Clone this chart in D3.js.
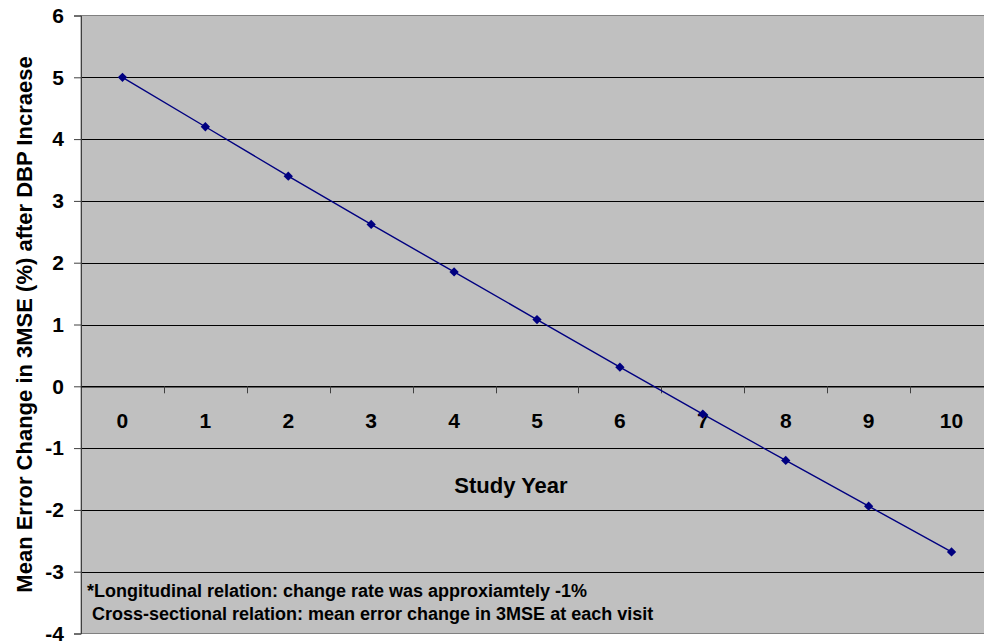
<!DOCTYPE html>
<html>
<head>
<meta charset="utf-8">
<script src="https://cdn.jsdelivr.net/npm/d3@7"></script>
<style>
  html, body { margin: 0; padding: 0; background: #fff; }
  svg { display: block; }
  text { font-family: Arial, "Liberation Sans", Helvetica, sans-serif; font-weight: bold; fill: #000; }
</style>
</head>
<body>
<svg id="chart" width="984" height="644"></svg>
<script>
// Study years (category axis) and mean error change per year
const years = ["0", "1", "2", "3", "4", "5", "6", "7", "8", "9", "10"];
const meanErrorChange = [5.0, 4.2, 3.4, 2.62, 1.85, 1.08, 0.31, -0.45, -1.2, -1.94, -2.68];
const yTicks = [-4, -3, -2, -1, 0, 1, 2, 3, 4, 5, 6];
const yTitle = "Mean Error Change in 3MSE (%) after DBP Incraese";
const xTitle = "Study Year";
const notes = [
  "*Longitudinal relation: change rate was approxiamtely -1%",
  " Cross-sectional relation: mean error change in 3MSE at each visit"
];

const svg = d3.select("#chart");
const plot = { left: 81, right: 993, top: 15.5, bottom: 633.5 };
const FONT = "Arial, 'Liberation Sans', sans-serif";

const x = d3.scaleBand().domain(years).range([plot.left, plot.right]);
const y = d3.scaleLinear().domain([-4, 6]).range([plot.bottom, plot.top]);

// plot area background
svg.append("rect")
  .attr("x", plot.left).attr("y", plot.top)
  .attr("width", plot.right - plot.left).attr("height", plot.bottom - plot.top)
  .attr("fill", "#c0c0c0")
  .attr("stroke", "#808080").attr("stroke-width", 1);

// horizontal gridlines
svg.append("g").selectAll("line")
  .data(yTicks.filter(v => v > -4 && v < 6))
  .join("line")
  .attr("x1", plot.left).attr("x2", plot.right)
  .attr("y1", d => Math.round(y(d)) + 0.5).attr("y2", d => Math.round(y(d)) + 0.5)
  .attr("stroke", "#000").attr("stroke-width", 1);

// value axis on the left (plain hyphen for negatives)
const yAxis = svg.append("g")
  .attr("transform", `translate(${plot.left},0)`)
  .call(d3.axisLeft(y).tickValues(yTicks).tickSize(7).tickPadding(10).tickFormat(d => String(d)));
yAxis.select(".domain").attr("stroke", "#404040");
yAxis.selectAll(".tick line").attr("stroke", "#404040");
yAxis.selectAll(".tick text")
  .attr("font-size", 21).attr("font-family", FONT)
  .attr("font-weight", "bold").attr("fill", "#000");

// category axis crossing at zero
const xAxis = svg.append("g")
  .attr("transform", `translate(0,${Math.round(y(0)) + 0.5})`)
  .call(d3.axisBottom(x).tickSize(0));
xAxis.select(".domain").attr("stroke", "#000");
xAxis.selectAll(".tick text")
  .attr("y", 41.5).attr("dy", null)
  .attr("font-size", 21).attr("font-family", FONT)
  .attr("font-weight", "bold").attr("fill", "#000");

// tick marks between categories
svg.append("g").selectAll("line")
  .data(years.slice(1))
  .join("line")
  .attr("x1", d => Math.round(x(d)) + 0.5).attr("x2", d => Math.round(x(d)) + 0.5)
  .attr("y1", y(0)).attr("y2", y(0) + 7)
  .attr("stroke", "#404040");

// data line
const line = d3.line()
  .x((d, i) => x(years[i]) + x.bandwidth() / 2)
  .y(d => y(d));
svg.append("path")
  .datum(meanErrorChange)
  .attr("d", line)
  .attr("fill", "none")
  .attr("stroke", "#000080")
  .attr("stroke-width", 1.4);

// diamond markers
svg.append("g").selectAll("path")
  .data(meanErrorChange)
  .join("path")
  .attr("transform", (d, i) => `translate(${x(years[i]) + x.bandwidth() / 2},${y(d)})`)
  .attr("d", d3.symbol(d3.symbolDiamond2, 55))
  .attr("fill", "#000080");

// axis titles
svg.append("text")
  .attr("transform", `translate(32,${(plot.top + plot.bottom) / 2}) rotate(-90)`)
  .attr("text-anchor", "middle")
  .attr("font-size", 22)
  .text(yTitle);

svg.append("text")
  .attr("x", 511).attr("y", 493)
  .attr("text-anchor", "middle")
  .attr("font-size", 22)
  .text(xTitle);

// footnotes inside the plot
svg.append("g").selectAll("text")
  .data(notes)
  .join("text")
  .attr("x", 87)
  .attr("y", (d, i) => 597 + i * 23)
  .attr("font-size", 18)
  .style("white-space", "pre")
  .text(d => d);
</script>
</body>
</html>
